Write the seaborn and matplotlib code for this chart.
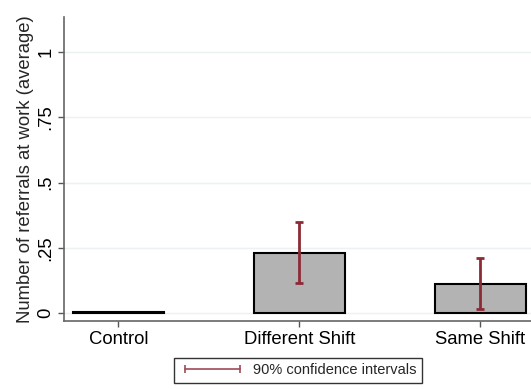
import matplotlib
matplotlib.use("Agg")
import matplotlib.pyplot as plt
import seaborn as sns
import pandas as pd
import numpy as np
from matplotlib.lines import Line2D

categories = ["Control", "Different Shift", "Same Shift"]
means = [0.003, 0.231, 0.111]
ci_low = [0.003, 0.114, 0.016]
ci_high = [0.003, 0.349, 0.210]
yticks = [0, 0.25, 0.5, 0.75, 1]
yticklabels = ["0", ".25", ".5", ".75", "1"]

sns.set_style("white")
plt.rcParams['font.family'] = ['Liberation Sans', 'DejaVu Sans']

df = pd.DataFrame({"group": categories, "mean": means})

fig = plt.figure(figsize=(5.31, 3.89), dpi=100)
ax = fig.add_axes([0.1205, 0.1748, 0.8795, 0.7812])

sns.barplot(data=df, x="group", y="mean", color="#b3b3b3", saturation=1,
            width=0.5, edgecolor="black", linewidth=1.5, errorbar=None, ax=ax)

x = np.arange(len(categories))
m = np.array(means)
err = np.vstack([m - np.array(ci_low), np.array(ci_high) - m])
ax.errorbar(x[1:], m[1:], yerr=err[:, 1:], fmt="none", ecolor="#8c2a36",
            elinewidth=2, capsize=3, capthick=2, zorder=5)

ax.set_xlim(-0.3, 2.28)
ax.set_ylim(-0.03, 1.134)
ax.set_yticks(yticks)
ax.set_yticklabels(yticklabels, rotation=90, va="center")
ax.set_xlabel("")
ax.set_ylabel("Number of referrals at work (average)", fontsize=13.3, labelpad=2)
ax.tick_params(axis="both", labelsize=13.3, length=4, width=1, colors="#555555",
               direction="out", left=True, bottom=True, pad=3)
for lab in ax.get_xticklabels() + ax.get_yticklabels():
    lab.set_color("black")
ax.yaxis.grid(True, color="#eaf2f3", linewidth=1)
ax.set_axisbelow(True)
for s in ["top", "right"]:
    ax.spines[s].set_visible(False)
for s in ["left", "bottom"]:
    ax.spines[s].set_color("#666666")
    ax.spines[s].set_linewidth(1.2)

handle = Line2D([0], [0], color="#a04a56", lw=1.2, marker="|", markersize=6,
                markeredgewidth=1.2)
leg = fig.legend([handle], ["90% confidence intervals"], loc="lower center",
                 bbox_to_anchor=(0.562, -0.004), numpoints=2, fontsize=10.5,
                 frameon=True, fancybox=False, edgecolor="black",
                 handlelength=4.4, handletextpad=0.6, borderpad=0.4)
leg.get_frame().set_linewidth(1)

fig.savefig("out.png", dpi=100)
